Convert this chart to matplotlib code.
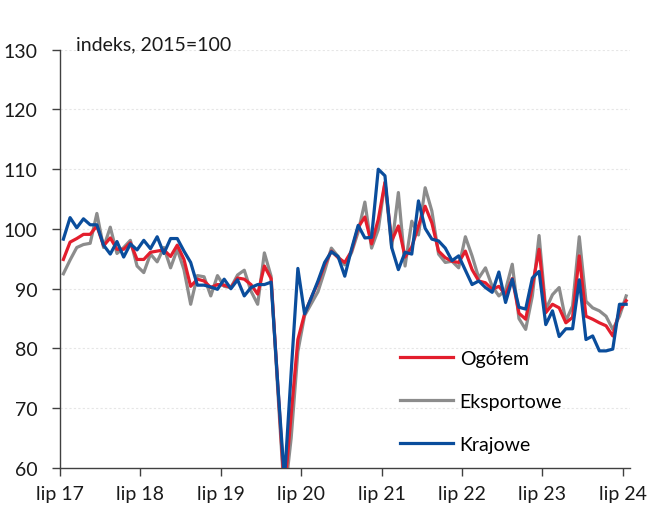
import matplotlib

matplotlib.use("Agg")
import matplotlib.pyplot as plt
import numpy as np

# monthly values, lip 2017 .. lip 2024 (85 months)
ogolem = [
    94.9, 97.8, 98.4, 99.1, 99.1, 100.5, 97.2, 98.5, 96.6, 96.6, 97.7, 94.9,
    94.9, 96.1, 96.3, 96.5, 95.4, 97.3, 94.9, 90.4, 91.6, 91.3, 90.2, 90.7,
    90.6, 90.2, 91.8, 91.6, 90.7, 89.1, 93.8, 91.7, 74.0, 56.0, 69.0, 81.5,
    85.8, 88.5, 91.0, 94.0, 96.3, 95.2, 94.4, 96.3, 100.3, 102.0, 97.5, 101.6,
    107.8, 98.0, 100.5, 95.3, 97.0, 100.5, 103.8, 101.0, 96.3, 95.2, 94.6, 94.4,
    96.3, 93.2, 91.3, 91.0, 89.9, 90.4, 89.0, 91.7, 85.9, 84.9, 90.5, 96.6,
    86.0, 87.4, 86.8, 84.3, 85.2, 95.5, 85.4, 84.9, 84.3, 83.8, 82.1, 86.3,
    88.0,
]
eksportowe = [
    92.5, 94.8, 96.9, 97.4, 97.6, 102.6, 96.9, 100.3, 95.9, 96.9, 98.1, 93.8,
    92.7, 95.8, 94.5, 96.9, 93.5, 96.6, 93.2, 87.4, 92.2, 92.0, 88.8, 92.2,
    90.4, 90.2, 92.3, 93.1, 89.6, 87.4, 96.0, 92.1, 73.0, 55.0, 65.0, 79.5,
    85.5, 87.5, 89.5, 93.0, 96.8, 95.4, 94.0, 96.0, 99.5, 104.5, 96.8, 99.9,
    107.8, 96.9, 106.1, 93.8, 101.3, 99.0, 106.9, 103.0, 95.8, 94.4, 94.6, 93.5,
    98.7, 95.5, 91.8, 93.5, 90.4, 88.8, 89.8, 94.1, 85.0, 83.2, 88.8, 98.9,
    86.5, 89.0, 90.2, 84.6, 87.1, 98.7, 87.9, 86.8, 86.3, 85.4, 83.2, 85.4,
    88.8,
]
krajowe = [
    98.3, 101.9, 100.2, 101.7, 100.7, 100.7, 97.3, 95.8, 97.9, 95.3, 97.5, 96.5,
    98.1, 96.7, 98.7, 95.9, 98.4, 98.4, 96.3, 94.4, 90.6, 90.6, 90.3, 89.9,
    91.6, 90.0, 91.5, 88.8, 90.2, 90.7, 90.7, 91.1, 74.0, 58.0, 76.0, 93.4,
    85.8, 88.5, 91.3, 94.4, 96.2, 95.4, 92.1, 96.6, 100.6, 98.5, 98.6, 110.0,
    108.9, 96.9, 93.2, 96.1, 95.8, 104.7, 100.1, 98.3, 98.0, 96.8, 94.7, 95.5,
    93.1, 90.7, 91.3, 90.2, 89.4, 92.8, 87.7, 91.6, 86.9, 86.6, 91.8, 92.9,
    84.0, 86.3, 82.0, 83.3, 83.3, 91.5, 81.5, 82.1, 79.6, 79.6, 79.9, 87.4,
    87.4,
]
tick_labels = ["lip 17", "lip 18", "lip 19", "lip 20", "lip 21", "lip 22", "lip 23", "lip 24"]

plt.rcParams["font.family"] = ["Lato", "DejaVu Sans"]

fig = plt.figure(figsize=(6.51, 5.06), dpi=100)
ax = fig.add_axes([0.0922, 0.0731, 0.8748, 0.8267])

x = np.arange(len(ogolem))
ax.plot(x, eksportowe, color="#8c8c8c", lw=2.3, zorder=2, label="Eksportowe")
ax.plot(x, ogolem, color="#e31e2d", lw=2.3, zorder=3, label="Ogółem")
ax.plot(x, krajowe, color="#0a4d9c", lw=2.3, zorder=4, label="Krajowe")

ax.set_xlim(-0.5, len(ogolem) - 0.5)
ax.set_ylim(60, 130)
ax.set_yticks(np.arange(60, 131, 10))
ax.set_xticks(np.arange(len(tick_labels)) * 12 - 0.5)
ax.set_xticklabels(tick_labels)
ax.tick_params(axis="both", labelsize=14, color="#404040", labelcolor="#1a1a1a",
               length=6, width=1)
ax.tick_params(axis="y", pad=10)
ax.tick_params(axis="x", pad=6)

for val in range(70, 131, 10):
    ax.axhline(val, color="#e6e6e6", lw=0.8, ls=(0, (2, 2)), zorder=1)

for side in ("top", "right"):
    ax.spines[side].set_visible(False)
for side in ("left", "bottom"):
    ax.spines[side].set_color("#404040")
    ax.spines[side].set_linewidth(1)

ax.text(0.028, 1.015, "indeks, 2015=100", transform=ax.transAxes, fontsize=14,
        color="#1a1a1a", va="center", ha="left")

handles, labels = ax.get_legend_handles_labels()
order = [1, 0, 2]
ax.legend([handles[i] for i in order], [labels[i] for i in order],
          loc="upper left", bbox_to_anchor=(0.567, 0.324), frameon=False,
          fontsize=14, handlelength=2.7, labelspacing=1.33, handletextpad=0.35)

fig.savefig("out.png", dpi=100)
